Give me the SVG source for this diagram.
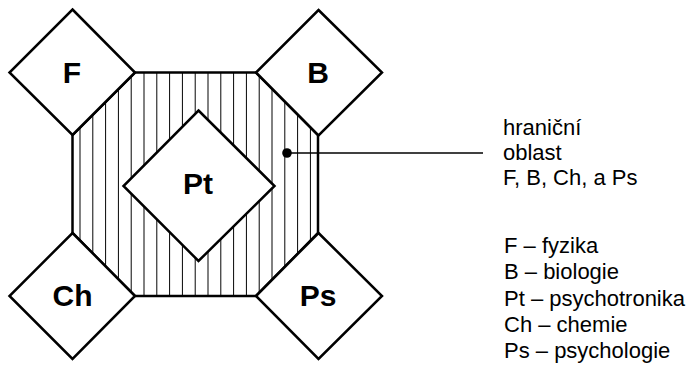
<svg xmlns="http://www.w3.org/2000/svg" width="691" height="365" viewBox="0 0 691 365">
  <style>
    .shape { fill: #fff; stroke: #000; stroke-width: 2.5; stroke-linejoin: miter; }
    .lbl { font-family: "Liberation Sans", Arial, sans-serif; font-weight: bold; font-size: 30px; text-anchor: middle; fill: #000; }
    .txt { font-family: "Liberation Sans", Arial, sans-serif; font-size: 22px; fill: #000; }
  </style>
  <defs>
    <pattern id="hatch" patternUnits="userSpaceOnUse" x="73.6" y="0" width="12.8" height="20">
      <line x1="6.4" y1="0" x2="6.4" y2="20" stroke="#000" stroke-width="1"/>
    </pattern>
  </defs>
  <rect width="691" height="365" fill="#fff"/>
  <g id="boundary">
    <polygon points="135,72.5 256,72.5 318,135 318,233 256,296 135,296 72.5,233 72.5,135" fill="url(#hatch)" stroke="#000" stroke-width="2.5"/>
  </g>
  <g id="node-F">
    <polygon class="shape" points="72.5,9.5 135,72.5 72.5,135 9.5,72.5"/>
    <text class="lbl" x="72" y="83">F</text>
  </g>
  <g id="node-B">
    <polygon class="shape" points="318.5,10 382,72.5 318.5,135.5 256,72.5"/>
    <text class="lbl" x="318" y="83">B</text>
  </g>
  <g id="node-Ch">
    <polygon class="shape" points="72.5,233 135,296 72.5,359 9.5,296"/>
    <text class="lbl" x="72.5" y="305.5">Ch</text>
  </g>
  <g id="node-Ps">
    <polygon class="shape" points="318.5,233 382,296 318.5,359 256,296"/>
    <text class="lbl" x="318" y="305.5">Ps</text>
  </g>
  <g id="node-Pt">
    <polygon class="shape" points="198.5,110.5 274.5,186 198.5,261 123.5,186"/>
    <text class="lbl" x="198" y="194">Pt</text>
  </g>
  <g id="connectors">
    <line x1="287" y1="153" x2="483" y2="153" stroke="#000" stroke-width="1.5"/>
    <circle cx="287" cy="153" r="4.8" fill="#000"/>
  </g>
  <g id="label-boundary">
    <text class="txt" x="503" y="135">hraniční</text>
    <text class="txt" x="503" y="160">oblast</text>
    <text class="txt" x="503" y="185">F, B, Ch, a Ps</text>
  </g>
  <g id="legend">
    <text class="txt" x="504" y="253">F – fyzika</text>
    <text class="txt" x="504" y="279">B – biologie</text>
    <text class="txt" x="504" y="305.5">Pt – psychotronika</text>
    <text class="txt" x="504" y="331.5">Ch – chemie</text>
    <text class="txt" x="504" y="358">Ps – psychologie</text>
  </g>
</svg>
